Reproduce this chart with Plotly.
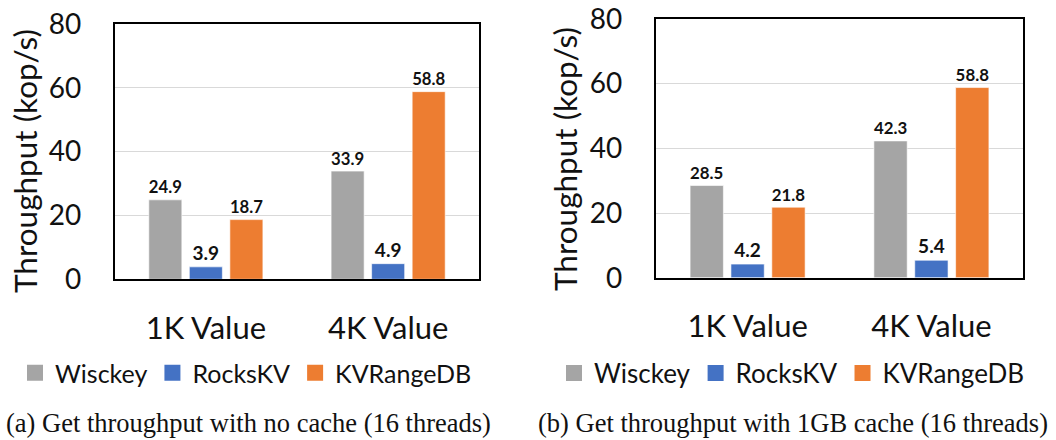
import plotly.graph_objects as go

categories = ["1K Value", "4K Value"]
series_names = ["Wisckey", "RocksKV", "KVRangeDB"]
colors = ["#A5A5A5", "#4472C4", "#ED7D31"]

# (a) no cache
a_wisckey = [24.9, 33.9]
a_rockskv = [3.9, 4.9]
a_kvrangedb = [18.7, 58.8]
# (b) 1GB cache
b_wisckey = [28.5, 42.3]
b_rockskv = [4.2, 5.4]
b_kvrangedb = [21.8, 58.8]

y_ticks = [0, 20, 40, 60, 80]
y_title = "Throughput (kop/s)"
caption_a = "(a) Get throughput with no cache (16 threads)"
caption_b = "(b) Get throughput with 1GB cache (16 threads)"

W, H = 1056, 440
FONT = "Lato"
TXT = "#111111"

fig = go.Figure()

panels = [
    ([a_wisckey, a_rockskv, a_kvrangedb], "x", "y", "legend"),
    ([b_wisckey, b_rockskv, b_kvrangedb], "x2", "y2", "legend2"),
]
for vals, xa, ya, lg in panels:
    for name, v, c in zip(series_names, vals, colors):
        fig.add_trace(go.Bar(
            x=categories, y=v, name=name, xaxis=xa, yaxis=ya,
            marker=dict(color=c, line=dict(color="rgba(255,255,255,0.6)", width=1)),
            text=[f"{t:.1f}" for t in v], textposition="outside",
            textfont=dict(family=FONT, size=19, color=TXT, weight="bold"),
            cliponaxis=False, showlegend=False,
        ))
    for name, c in zip(series_names, colors):
        fig.add_trace(go.Scatter(
            x=[None], y=[None], mode="markers", name=name, xaxis=xa, yaxis=ya,
            marker=dict(symbol="square", size=16, color=c), legend=lg,
        ))

def px_x(p):
    return p / W

def px_y(p):
    return 1 - p / H

axis_common_y = dict(
    range=[0, 80], tickvals=y_ticks, showgrid=True, gridcolor="#D9D9D9", gridwidth=1,
    zeroline=False, showline=True, linecolor="#000000", linewidth=1.5, mirror=True,
    ticks="", ticklabelstandoff=26, tickfont=dict(family=FONT, size=28, color=TXT),
    fixedrange=True, automargin=False,
)
axis_common_x = dict(
    showline=True, linecolor="#000000", linewidth=2, mirror=True, ticks="",
    ticklabelstandoff=20, tickfont=dict(family=FONT, size=31, color=TXT),
    fixedrange=True, automargin=False,
)

fig.update_layout(
    width=W, height=H,
    margin=dict(l=0, r=0, t=0, b=0, autoexpand=False),
    paper_bgcolor="white", plot_bgcolor="white",
    barmode="group", bargap=0.333, bargroupgap=0.185,
    font=dict(family=FONT, color=TXT),
    xaxis=dict(domain=[px_x(114.7), px_x(479.3)], anchor="y", **axis_common_x),
    yaxis=dict(domain=[px_y(279.3), px_y(24)], anchor="x", **axis_common_y),
    xaxis2=dict(domain=[px_x(655.7), px_x(1023.3)], anchor="y2", **axis_common_x),
    yaxis2=dict(domain=[px_y(277.7), px_y(19)], anchor="x2", **axis_common_y),
    legend=dict(orientation="h", x=px_x(15), xanchor="left", y=px_y(373), yanchor="middle",
                font=dict(family=FONT, size=25, color=TXT),
                bgcolor="rgba(0,0,0,0)"),
    legend2=dict(orientation="h", x=px_x(554), xanchor="left", y=px_y(373), yanchor="middle",
                 font=dict(family=FONT, size=26, color=TXT),
                 bgcolor="rgba(0,0,0,0)"),
    annotations=[
        dict(text=y_title, xref="paper", yref="paper", x=px_x(25), y=px_y(161),
             xanchor="center", yanchor="middle", textangle=-90, showarrow=False,
             font=dict(family=FONT, size=31.5, color=TXT)),
        dict(text=y_title, xref="paper", yref="paper", x=px_x(565), y=px_y(159),
             xanchor="center", yanchor="middle", textangle=-90, showarrow=False,
             font=dict(family=FONT, size=31.5, color=TXT)),
        dict(text=caption_a, xref="paper", yref="paper", x=px_x(248.3), y=px_y(423),
             xanchor="center", yanchor="middle", showarrow=False,
             font=dict(family="Liberation Serif", size=26.5, color=TXT)),
        dict(text=caption_b, xref="paper", yref="paper", x=px_x(793.3), y=px_y(423),
             xanchor="center", yanchor="middle", showarrow=False,
             font=dict(family="Liberation Serif", size=26.5, color=TXT)),
    ],
)

fig.write_html("out.html", config=dict(displayModeBar=False))
